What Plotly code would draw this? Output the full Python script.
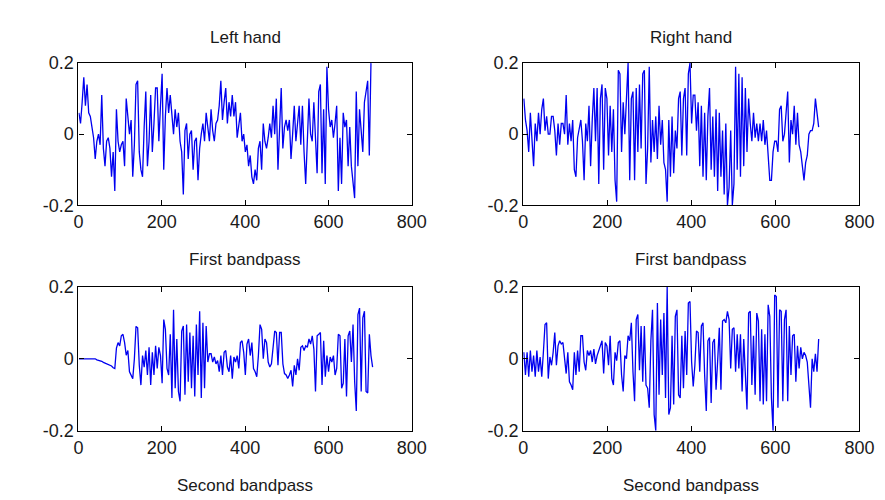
import numpy as np
import plotly.graph_objects as go

# ---- data ----
left_hand = [
 0.06,0.03,0.09,0.16,0.08,0.14,0.06,0.05,0.02,-0.01,-0.07,-0.02,0.0,-0.03,0.11,-0.04,-0.09,-0.02,-0.01,-0.04,
 -0.12,-0.05,-0.16,0.07,-0.02,-0.05,-0.03,-0.02,-0.09,0.10,0.05,0.0,0.04,-0.12,-0.03,0.14,0.15,-0.05,-0.10,-0.12,
 0.02,0.12,-0.09,-0.02,0.11,-0.05,0.03,0.13,0.13,-0.02,0.08,0.17,-0.10,0.05,0.13,0.06,0.11,0.04,0.0,0.07,
 0.02,0.06,-0.02,-0.05,-0.17,0.01,0.03,-0.07,0.0,0.01,-0.10,-0.02,-0.01,-0.13,-0.04,0.0,0.03,-0.02,0.06,0.02,
 -0.02,0.07,0.01,-0.02,0.03,0.04,0.08,0.15,0.04,0.09,0.13,0.03,0.09,0.05,0.11,0.05,0.09,-0.01,0.03,0.06,
 -0.02,0.0,-0.05,-0.03,-0.09,-0.06,-0.12,
 -0.14,-0.10,-0.13,-0.04,-0.02,-0.10,0.03,-0.02,-0.04,-0.01,0.03,-0.01,0.08,0.0,0.10,-0.10,0.0,0.13,-0.04,0.02,
 0.04,0.01,0.04,-0.07,0.0,0.08,-0.02,0.03,0.08,-0.03,0.08,-0.05,-0.14,-0.02,0.10,0.0,-0.02,0.09,0.0,-0.11,
 0.12,0.14,-0.11,0.07,-0.14,0.19,0.07,0.02,0.04,-0.01,0.03,0.08,-0.16,-0.01,-0.14,0.06,0.02,0.04,-0.09,0.02,
 -0.09,-0.14,-0.18,0.12,-0.09,0.07,0.0,-0.05,0.09,0.12,0.15,-0.06,0.20]

right_hand = [
 0.10,0.04,0.01,-0.05,0.06,-0.03,-0.09,0.03,-0.02,0.06,0.0,0.07,0.10,0.01,0.05,0.0,0.0,0.05,0.05,0.01,
 -0.06,0.03,-0.03,0.03,0.03,0.0,0.11,-0.03,0.03,-0.02,0.04,-0.10,-0.12,-0.01,0.02,0.04,-0.02,-0.13,0.03,-0.02,
 0.08,-0.09,0.04,0.13,-0.02,0.13,-0.14,0.10,0.14,-0.10,0.13,0.10,-0.06,0.08,-0.05,0.07,-0.13,-0.19,0.18,0.17,
 -0.05,0.09,0.0,0.12,0.20,-0.13,0.10,0.12,-0.13,0.13,-0.05,0.14,-0.04,0.17,0.18,-0.14,-0.04,0.19,-0.08,0.04,
 -0.05,0.05,-0.07,0.08,-0.03,0.04,-0.08,-0.10,-0.19,0.04,-0.12,0.05,-0.11,0.01,-0.04,
 0.10,0.12,-0.06,0.10,0.13,-0.06,0.17,0.20,0.03,0.11,0.11,0.01,0.09,-0.09,0.08,-0.12,0.06,-0.13,0.05,0.13,
 -0.10,0.05,-0.12,0.07,-0.16,0.06,-0.12,0.01,-0.17,0.03,-0.20,-0.15,0.01,-0.20,-0.14,0.19,-0.10,0.17,-0.12,0.16,
 -0.09,0.13,-0.05,0.10,0.03,-0.02,0.06,-0.01,0.03,-0.02,0.03,-0.02,0.04,-0.03,0.01,-0.08,-0.13,-0.13,-0.05,-0.02,
 -0.02,-0.05,0.07,0.08,-0.02,0.0,0.05,0.12,-0.08,0.04,0.0,0.08,-0.03,0.06,-0.03,-0.05,-0.09,-0.13,-0.08,-0.06,
 0.0,0.01,0.01,0.03,0.10,0.05,0.02]

left_band = [
 0.0,0.0,0.0,0.0,0.0,0.0,0.0,0.0,0.0,0.0,0.0,-0.003,-0.004,-0.005,-0.007,-0.010,-0.012,-0.015,-0.016,-0.018,
 -0.020,-0.025,-0.027,0.030,0.045,0.036,0.064,0.068,0.045,0.010,0.023,-0.036,-0.045,-0.055,0.0,0.090,0.086,-0.018,-0.073,0.009,
 -0.023,0.023,-0.045,0.032,-0.073,0.018,-0.045,0.036,-0.027,0.032,0.009,-0.068,0.109,0.082,-0.027,-0.045,0.068,-0.109,0.136,-0.082,
 0.055,-0.091,-0.118,0.077,0.091,-0.100,0.095,-0.064,0.073,-0.082,0.064,-0.105,0.095,-0.045,0.132,-0.109,0.100,-0.082,0.091,-0.009,
 0.014,0.014,-0.009,0.005,-0.014,-0.005,-0.036,0.009,-0.045,0.018,0.023,-0.023,-0.036,0.009,-0.055,0.005,-0.009,0.009,-0.027,0.045,
 0.050,0.018,-0.045,0.041,0.055,0.009,0.045,
 -0.027,-0.036,-0.050,0.009,0.095,0.082,0.0,0.055,0.045,-0.009,-0.023,-0.014,0.027,0.077,0.073,-0.018,0.073,0.073,-0.014,-0.041,
 -0.045,-0.055,-0.045,-0.032,-0.077,-0.018,-0.045,0.0,-0.032,0.032,0.036,0.023,0.036,0.032,0.055,0.041,0.064,0.027,-0.091,0.064,
 0.068,0.073,-0.073,0.050,-0.050,0.009,-0.036,0.005,-0.009,0.009,-0.045,-0.027,0.068,0.064,-0.082,-0.068,0.055,-0.105,0.064,0.077,
 -0.009,0.095,-0.064,-0.145,0.123,0.141,-0.091,0.114,0.132,-0.091,-0.095,0.068,0.009,-0.023]

right_band = [
 0.018,-0.045,0.018,-0.050,0.023,-0.036,0.009,-0.050,0.023,-0.036,0.005,-0.050,0.018,0.095,0.100,-0.055,0.005,-0.018,0.018,0.073,
 -0.018,0.036,0.050,0.041,0.045,0.009,-0.041,0.018,-0.064,-0.073,-0.086,0.018,-0.045,0.023,-0.036,0.064,0.064,-0.009,-0.032,0.023,
 0.009,0.023,-0.009,0.027,-0.014,0.009,0.023,0.041,0.050,-0.041,0.045,0.036,-0.018,0.064,-0.055,-0.073,0.018,-0.005,0.045,0.050,
 -0.045,-0.091,0.009,0.0,0.064,0.050,0.100,-0.036,-0.118,0.109,0.123,-0.032,0.091,-0.064,0.091,-0.073,-0.082,-0.136,0.050,0.136,
 -0.155,-0.200,0.155,-0.100,0.109,-0.045,0.127,-0.109,0.200,-0.155,-0.136,0.064,-0.127,0.118,0.136,
 -0.100,-0.109,0.064,-0.082,0.077,-0.045,0.155,0.159,-0.009,-0.077,-0.018,0.077,0.073,-0.036,0.091,0.100,-0.045,-0.145,0.050,0.059,
 -0.123,0.045,0.055,-0.086,-0.005,0.086,-0.086,0.105,0.109,0.100,0.132,0.109,-0.027,0.082,0.086,-0.036,0.068,-0.027,0.068,-0.091,
 0.055,-0.045,-0.141,0.127,0.132,-0.073,0.064,-0.100,0.127,0.105,-0.118,0.082,-0.127,0.068,-0.118,0.150,0.118,-0.109,-0.200,0.177,
 0.173,-0.136,0.136,0.132,-0.118,0.109,0.136,-0.118,0.091,-0.045,0.064,0.068,-0.064,0.036,-0.027,0.032,0.0,0.018,0.009,-0.009,
 -0.091,-0.136,0.0,-0.036,0.014,-0.036,0.055]

x_ticks = [0, 200, 400, 600, 800]
y_ticks = [-0.2, 0, 0.2]
y_tick_text = ["-0.2", "0", "0.2"]
titles = ["Left hand", "Right hand"]
xlabels_top = ["First bandpass", "First bandpass"]
xlabels_bottom = ["Second bandpass", "Second bandpass"]

# sample positions of each trace (first and last sample index)
spans = {"left_hand": (1, 702), "right_hand": (1.5, 703), "left_band": (1, 706), "right_band": (1.5, 703)}

def xs(name, y):
    a, b = spans[name]
    return np.linspace(a, b, len(y))

W, H = 885, 500
# panel pixel boxes (left, right, top, bottom)
boxes = [(67, 408, 47, 195), (522, 866, 47, 195), (67, 408, 280, 430), (522, 866, 280, 430)]

fig = go.Figure()
series = [("left_hand", left_hand), ("right_hand", right_hand), ("left_band", left_band), ("right_band", right_band)]
tfont = dict(family="Liberation Sans, Arial, sans-serif", size=18, color="#1a1a1a")
lfont = dict(family="Liberation Sans, Arial, sans-serif", size=17, color="#1a1a1a")
for i, ((name, y), box) in enumerate(zip(series, boxes)):
    k = "" if i == 0 else str(i + 1)
    fig.add_trace(go.Scatter(x=xs(name, y), y=y, mode="lines",
                             line=dict(color="#0000f0", width=1.3),
                             xaxis="x" + k, yaxis="y" + k, showlegend=False,
                             hoverinfo="skip"))
    l, r, t, b = box
    ax = dict(range=[0, 800], tickvals=x_ticks, ticks="inside", ticklen=5, tickcolor="black",
              showline=True, linecolor="black", linewidth=1.3, mirror="ticks", showgrid=False,
              zeroline=False, tickfont=tfont, domain=[l / W, r / W], anchor="y" + k)
    ay = dict(range=[-0.2, 0.2], tickvals=y_ticks, ticktext=y_tick_text, ticks="inside", ticklen=5,
              tickcolor="black", showline=True, linecolor="black", linewidth=1.3, mirror="ticks",
              showgrid=False, zeroline=False, tickfont=tfont, domain=[1 - b / H, 1 - t / H],
              anchor="x" + k)
    fig.layout["xaxis" + k] = ax
    fig.layout["yaxis" + k] = ay

anns = []
centers = [(67 + 408) / 2, (522 + 866) / 2]
for c, t in zip(centers, titles):
    anns.append(dict(text=t, x=c / W, y=1 - 20 / H))
for c, t in zip(centers, xlabels_top):
    anns.append(dict(text=t, x=c / W, y=1 - 252 / H))
for c, t in zip(centers, xlabels_bottom):
    anns.append(dict(text=t, x=c / W, y=1 - 487 / H))
fig.update_layout(annotations=[dict(a, xref="paper", yref="paper", showarrow=False,
                                    xanchor="center", yanchor="middle", font=lfont) for a in anns])

fig.update_layout(width=W, height=H, margin=dict(l=0, r=0, t=0, b=0),
                  paper_bgcolor="white", plot_bgcolor="white")
fig.write_html("out.html")
